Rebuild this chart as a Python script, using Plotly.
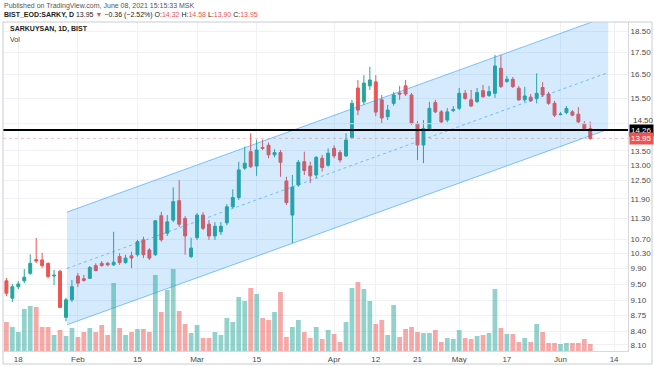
import math
import plotly.graph_objects as go

# ---------------- data ----------------
# bar index: 0 = Jan 18 2021, trading days only
bar_index = list(range(-2, 97))

opens = [9.59, 9.16, 9.44, 9.59, 9.78, 10.14, 10.13, 10.04, 9.71, 9.83,
         8.71, 9.12, 9.71, 9.64, 9.65, 9.98, 10.04, 10.04, 10.00, 10.22,
         10.06, 10.24, 10.27, 10.68, 10.40, 10.27, 11.38, 10.87, 11.25, 11.84,
         11.30, 10.22, 10.74, 11.40, 11.13, 10.79, 10.91, 11.17, 11.65, 11.94,
         12.90, 13.47, 12.97, 13.62, 13.70, 13.36, 13.44, 12.47, 11.40, 12.34,
         13.12, 12.97, 12.67, 13.24, 13.00, 13.59, 13.44, 13.32, 13.99, 15.93,
         15.36, 16.02, 16.19, 15.44, 14.77, 15.30, 15.72, 16.02, 15.64, 14.51,
         13.71, 14.26, 15.33, 14.96, 14.64, 15.01, 15.10, 15.71, 15.44, 15.37,
         15.82, 15.62, 15.71, 16.78, 16.21, 16.30, 15.92, 15.44, 15.55, 15.50,
         15.95, 15.68, 15.30, 14.85, 14.93, 14.96, 14.87, 14.51, 14.32]
highs = [9.66, 9.51, 9.58, 9.89, 10.28, 10.73, 10.32, 10.06, 9.87, 9.87,
         9.17, 9.61, 9.79, 9.74, 9.97, 10.04, 10.10, 10.08, 10.91, 10.31,
         10.27, 10.35, 10.68, 10.77, 10.45, 11.25, 11.50, 11.40, 12.26, 12.50,
         11.37, 10.74, 11.46, 11.49, 11.25, 11.19, 11.19, 11.73, 12.20, 13.12,
         13.65, 14.14, 13.91, 13.91, 13.80, 13.56, 13.53, 12.61, 12.67, 13.18,
         13.47, 13.12, 13.32, 13.36, 13.59, 13.70, 13.53, 14.14, 15.44, 16.27,
         16.48, 16.84, 16.48, 15.64, 15.24, 15.77, 16.02, 16.27, 15.72, 14.60,
         14.64, 15.36, 15.44, 15.03, 15.11, 15.19, 15.93, 15.85, 15.85, 15.93,
         16.06, 16.02, 17.38, 17.38, 16.44, 16.40, 16.02, 15.98, 15.68, 16.56,
         16.18, 15.77, 15.40, 14.95, 15.19, 15.03, 15.15, 14.60, 14.58]
lows = [9.21, 9.07, 9.38, 9.53, 9.74, 10.05, 9.92, 9.65, 9.48, 8.93,
        8.62, 9.07, 9.43, 9.57, 9.64, 9.83, 9.95, 9.96, 9.97, 10.00,
        10.03, 9.91, 10.22, 10.18, 10.13, 10.24, 10.63, 10.79, 11.19, 11.05,
        10.27, 10.18, 10.68, 10.96, 10.68, 10.68, 10.82, 11.10, 11.60, 11.86,
        12.84, 12.90, 12.64, 13.53, 13.24, 13.27, 12.61, 11.71, 10.59, 12.28,
        12.67, 12.40, 12.56, 12.78, 12.95, 13.24, 13.09, 13.29, 13.95, 14.83,
        15.24, 15.85, 14.79, 14.52, 14.64, 15.20, 15.44, 15.60, 14.45, 13.18,
        13.07, 14.22, 14.91, 14.52, 14.56, 14.95, 15.03, 15.44, 15.15, 15.32,
        15.52, 15.56, 15.52, 15.93, 16.15, 15.93, 15.40, 15.36, 15.36, 15.30,
        15.56, 15.24, 14.76, 14.83, 14.87, 14.79, 14.52, 14.22, 13.90]
closes = [9.28, 9.44, 9.51, 9.68, 10.04, 10.10, 9.98, 9.70, 9.73, 8.94,
          9.12, 9.44, 9.53, 9.60, 9.93, 9.85, 9.98, 10.00, 10.07, 10.06,
          10.18, 10.18, 10.63, 10.27, 10.18, 11.23, 10.68, 11.20, 11.81, 11.13,
          10.79, 10.45, 11.40, 11.01, 10.79, 11.07, 11.07, 11.65, 11.94, 12.84,
          13.07, 12.95, 13.53, 13.59, 13.36, 13.44, 13.10, 11.78, 12.27, 13.10,
          12.82, 12.64, 13.27, 12.92, 13.42, 13.32, 13.18, 13.89, 15.30, 15.03,
          16.14, 16.27, 14.95, 14.72, 15.03, 15.64, 15.68, 15.68, 14.51, 13.71,
          14.32, 15.10, 14.96, 14.57, 14.96, 15.05, 15.71, 15.50, 15.19, 15.74,
          15.57, 15.78, 16.88, 15.99, 16.30, 15.99, 15.44, 15.60, 15.40, 15.71,
          15.64, 15.30, 14.83, 14.87, 15.10, 14.83, 14.57, 14.31, 13.95]
# volume (millions, approximate)
volumes = [2.9, 2.4, 1.9, 4.2, 4.5, 4.4, 2.4, 2.4, 1.6, 2.1,
           1.5, 2.3, 1.4, 1.9, 2.3, 1.9, 2.6, 1.6, 6.8, 2.3,
           1.6, 1.9, 2.2, 2.2, 1.9, 7.6, 3.9, 6.1, 8.2, 4.0,
           2.7, 1.8, 2.6, 1.3, 1.3, 1.9, 1.6, 3.3, 2.9, 5.4,
           5.0, 6.3, 5.7, 3.3, 3.1, 3.9, 5.9, 1.4, 2.4, 3.1,
           1.9, 1.3, 2.4, 1.2, 2.1, 1.7, 0.9, 2.9, 6.3, 6.9,
           6.2, 5.0, 2.7, 3.1, 1.6, 4.6, 1.4, 2.2, 2.4, 1.9,
           1.8, 1.8, 2.1, 0.9, 1.3, 1.2, 2.1, 1.3, 1.2, 1.5,
           1.6, 1.8, 6.2, 2.3, 1.7, 1.7, 0.9, 1.3, 0.9, 2.7,
           1.9, 0.8, 0.8, 0.7, 0.8, 0.8, 0.8, 1.2, 0.7]

# time-axis labels (bar index -> label)
tick_index = [0, 10, 20, 30, 40, 53, 60, 67, 74, 82, 91, 100]
tick_labels = ["18", "Feb", "15", "Mar", "15", "Apr", "12", "21", "May", "17", "Jun", "14"]

# price-axis labels (14.50 is pushed up by the price box, drawn separately)
price_ticks = [8.10, 8.40, 8.75, 9.10, 9.50, 9.90, 10.30, 10.70, 11.30, 11.90,
               12.50, 13.00, 13.50, 15.50, 16.50, 17.50, 18.50]
shifted_tick = 14.50

# parallel channel drawing (bar index, price)
channel_x = [8.17, 99.0]
channel_upper = [11.49, 19.25]
channel_lower = [8.54, 14.29]
channel_mid = [9.906, 16.59]

level_price = 14.26       # horizontal black level
last_price = 13.95

# ---------------- styling ----------------
UP = "#26a69a"
DOWN = "#ef5350"
UP_VOL = "rgba(38,166,154,0.5)"
DOWN_VOL = "rgba(239,83,80,0.5)"
CH_LINE = "rgba(33,150,243,0.55)"
CH_FILL = "rgba(33,150,243,0.19)"
FONT = "Liberation Sans"

X_RANGE = [-2.57, 102.33]
Y_RANGE = [0.90149, 1.27769]   # log10 of price

W, H = 654, 366
ML, MR, MT, MB = 3, 26, 22, 15

fig = go.Figure()

# channel fill
fig.add_trace(go.Scatter(
    x=[channel_x[0], channel_x[1], channel_x[1], channel_x[0], channel_x[0]],
    y=[channel_upper[0], channel_upper[1], channel_lower[1], channel_lower[0], channel_upper[0]],
    fill="toself", fillcolor=CH_FILL, line=dict(width=0), mode="lines",
    hoverinfo="skip", showlegend=False))
for ys, dash in ((channel_upper, "solid"), (channel_lower, "solid"), (channel_mid, "3px,3px")):
    fig.add_trace(go.Scatter(x=channel_x, y=ys, mode="lines",
                             line=dict(color=CH_LINE, width=1, dash=dash),
                             hoverinfo="skip", showlegend=False))

# volume
vol_colors = [UP_VOL if c >= o else DOWN_VOL for o, c in zip(opens, closes)]
fig.add_trace(go.Bar(x=bar_index, y=volumes, marker=dict(color=vol_colors, line=dict(width=0)),
                     width=0.8, yaxis="y2", showlegend=False, hoverinfo="skip"))

# last price line
fig.add_trace(go.Scatter(x=X_RANGE, y=[last_price, last_price], mode="lines",
                         line=dict(color="rgba(239,83,80,0.35)", width=1, dash="dot"),
                         hoverinfo="skip", showlegend=False))

# candles
fig.add_trace(go.Candlestick(
    x=bar_index, open=opens, high=highs, low=lows, close=closes,
    increasing=dict(line=dict(color=UP, width=1), fillcolor=UP),
    decreasing=dict(line=dict(color=DOWN, width=1), fillcolor=DOWN),
    whiskerwidth=0, showlegend=False))

# horizontal level
fig.add_trace(go.Scatter(x=X_RANGE, y=[level_price, level_price], mode="lines",
                         line=dict(color="#000000", width=2),
                         hoverinfo="skip", showlegend=False))

fig.update_layout(
    width=W, height=H,
    margin=dict(l=ML, r=MR, t=MT, b=MB, autoexpand=False),
    paper_bgcolor="white", plot_bgcolor="white",
    font=dict(family=FONT, size=8, color="#4a4a4a"),
    bargap=0.2,
    xaxis=dict(range=X_RANGE, rangeslider=dict(visible=False), tickmode="array",
               tickvals=tick_index, ticktext=tick_labels, showgrid=True,
               gridcolor="#eff1f5", gridwidth=1, zeroline=False, ticks="",
               showline=True, linecolor="#d6d9e0", linewidth=1,
               tickfont=dict(size=8, color="#4a4a4a")),
    yaxis=dict(type="log", range=Y_RANGE, side="right", tickmode="array",
               tickvals=price_ticks, ticktext=[f"{v:.2f}" for v in price_ticks],
               showgrid=True, gridcolor="#eff1f5", zeroline=False, ticks="",
               showline=True, linecolor="#d6d9e0", linewidth=1,
               tickfont=dict(size=8, color="#4a4a4a")),
    yaxis2=dict(overlaying="y", range=[0, 32.9], visible=False, fixedrange=True),
)

plot_w = W - ML - MR
plot_h = H - MT - MB


def paper_x(px):
    return (px - ML) / plot_w


def paper_y(py):
    return (H - MB - py) / plot_h


# grid line for the shifted tick, and its label just above the price box
fig.add_trace(go.Scatter(x=X_RANGE, y=[shifted_tick, shifted_tick], mode="lines",
                         line=dict(color="#eff1f5", width=1), hoverinfo="skip",
                         showlegend=False))
fig.data = (fig.data[-1],) + fig.data[:-1]
fig.add_annotation(x=paper_x(631), xref="paper", xanchor="left",
                   y=paper_y(120), yref="paper", yanchor="middle",
                   text=f"{shifted_tick:.2f}", showarrow=False,
                   font=dict(color="#4a4a4a", size=8, family=FONT))

# price boxes on the axis
for price, bg in ((level_price, "#000000"), (last_price, DOWN)):
    fig.add_annotation(x=paper_x(629), xref="paper", xanchor="left",
                       y=math.log10(price), yref="y", yanchor="middle",
                       text=f"{price:.2f}", showarrow=False, bgcolor=bg,
                       font=dict(color="white", size=8, family=FONT),
                       borderpad=1)

# header texts
fig.add_annotation(x=paper_x(2), y=paper_y(6), xref="paper", yref="paper",
                   xanchor="left", yanchor="middle", showarrow=False,
                   text="Published on TradingView.com, June 08, 2021 15:15:33 MSK",
                   font=dict(size=7, color="#555555", family=FONT))
red = "#ef5350"
hdr = ("<b>BIST_EOD:SARKY, D</b> 13.95 "
       f"<span style='color:{red}'>▼</span> −0.36 (−2.52%) "
       f"O:<span style='color:{red}'>14.32</span> H:<span style='color:{red}'>14.58</span> "
       f"L:<span style='color:{red}'>13.90</span> C:<span style='color:{red}'>13.95</span>")
fig.add_annotation(x=paper_x(2), y=paper_y(15.5), xref="paper", yref="paper",
                   xanchor="left", yanchor="middle", showarrow=False, text=hdr,
                   font=dict(size=7, color="#222222", family=FONT))
fig.add_annotation(x=paper_x(8), y=paper_y(29.5), xref="paper", yref="paper",
                   xanchor="left", yanchor="middle", showarrow=False,
                   text="<b>SARKUYSAN, 1D, BIST</b>",
                   font=dict(size=7, color="#222222", family=FONT))
fig.add_annotation(x=paper_x(8), y=paper_y(40), xref="paper", yref="paper",
                   xanchor="left", yanchor="middle", showarrow=False,
                   text="Vol", font=dict(size=7, color="#444444", family=FONT))

# outer frame
fig.add_shape(type="rect", xref="paper", yref="paper",
              x0=paper_x(3), x1=paper_x(652), y0=paper_y(364), y1=paper_y(22),
              line=dict(color="#c9ccd4", width=1), fillcolor="rgba(0,0,0,0)", layer="above")

# the page body has a default 8px margin; remove it so the figure sits at (0, 0)
fig.write_html("out.html", config={"displayModeBar": False},
               post_script="document.body.style.margin='0px';document.body.style.overflow='hidden';")
